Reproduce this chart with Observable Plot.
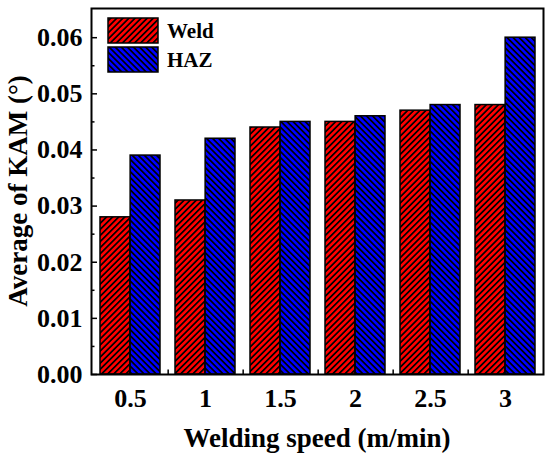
<!DOCTYPE html>
<html>
<head>
<meta charset="utf-8">
<script src="https://cdn.jsdelivr.net/npm/d3@7"></script>
<script src="https://cdn.jsdelivr.net/npm/@observablehq/plot@0.6"></script>
<style>
  html, body { margin: 0; padding: 0; background: #fff; }
  #chart svg { display: block; }
  #chart svg text { font-family: 'Liberation Serif', 'Times New Roman', serif; font-weight: bold; }
</style>
</head>
<body>
<div id="chart"></div>
<script>
const speeds = ["0.5", "1", "1.5", "2", "2.5", "3"];
const weld = [0.028, 0.031, 0.044, 0.045, 0.047, 0.048];
const haz = [0.039, 0.042, 0.045, 0.046, 0.048, 0.060];
const yTicks = [0, 0.01, 0.02, 0.03, 0.04, 0.05, 0.06];
const yMinor = [0.005, 0.015, 0.025, 0.035, 0.045, 0.055];
const seriesNames = ["Weld", "HAZ"];

const W = 550, H = 458;
const mL = 91, mR = 7, mT = 8, mB = 84;
const plotW = W - mL - mR;
const padIn = 0.2, padOut = 0.1;
const step = plotW / (speeds.length - padIn + 2 * padOut);
const bw = step * (1 - padIn);
const font = "'Liberation Serif', 'Times New Roman', serif";

const weldData = speeds.map((s, i) => ({speed: s, value: weld[i]}));
const hazData = speeds.map((s, i) => ({speed: s, value: haz[i]}));

const chart = Plot.plot({
  width: W, height: H,
  marginLeft: mL, marginRight: mR, marginTop: mT, marginBottom: mB,
  style: {fontFamily: font, fontWeight: "bold", fontSize: "26px", color: "#000", background: "#fff"},
  x: {domain: speeds, paddingInner: padIn, paddingOuter: padOut, label: null},
  y: {domain: [0, 0.0652], label: null},
  marks: [
    Plot.barY(weldData, {x: "speed", y: "value", fill: "url(#hatchWeld)", stroke: "#000", strokeWidth: 1.5, insetRight: bw / 2, insetLeft: 0}),
    Plot.barY(hazData, {x: "speed", y: "value", fill: "url(#hatchHaz)", stroke: "#000", strokeWidth: 1.5, insetLeft: bw / 2, insetRight: 0}),
    Plot.ruleY(yTicks, {y: d => d, insetRight: plotW - 6, stroke: "#000", strokeWidth: 1.5}),
    Plot.ruleY(yMinor, {y: d => d, insetRight: plotW - 3.5, stroke: "#000", strokeWidth: 1.5}),
    Plot.ruleX(speeds.slice(0, -1), {x: d => d, dx: step / 2, y1: 0, y2: 0.0008, stroke: "#000", strokeWidth: 1.5}),
    Plot.axisY({ticks: yTicks, tickSize: 0, tickPadding: 9, tickFormat: d3.format(".2f"), label: null,
      fontFamily: font, fontWeight: "bold", fontSize: 26, fill: "#000"}),
    Plot.axisX({tickSize: 0, tickPadding: 14, label: null,
      fontFamily: font, fontWeight: "bold", fontSize: 26, fill: "#000"}),
    Plot.frame({stroke: "#000", strokeWidth: 2})
  ]
});

const svg = d3.select(chart);
const defs = svg.insert("defs", ":first-child");
function hatch(id, color, angle) {
  const p = defs.append("pattern")
    .attr("id", id).attr("patternUnits", "userSpaceOnUse")
    .attr("width", 4.3).attr("height", 4.3)
    .attr("patternTransform", `rotate(${angle})`);
  p.append("rect").attr("width", 4.3).attr("height", 4.3).attr("fill", color);
  p.append("rect").attr("x", 0).attr("y", 0).attr("width", 1.7).attr("height", 4.3).attr("fill", "#000");
}
hatch("hatchWeld", "#ff0000", 45);
hatch("hatchHaz", "#0000ff", -45);

// Legend
const colors = ["url(#hatchWeld)", "url(#hatchHaz)"];
const lg = svg.append("g").attr("font-size", 21).attr("text-anchor", "start");
seriesNames.forEach((name, i) => {
  const y0 = 18 + i * 29;
  lg.append("rect").attr("x", 108).attr("y", y0).attr("width", 50).attr("height", 25)
    .attr("fill", colors[i]).attr("stroke", "#000").attr("stroke-width", 1.5);
  lg.append("text").attr("x", 167).attr("y", y0 + 20).text(name);
});

// Axis titles
svg.append("text")
  .attr("x", mL + plotW / 2).attr("y", 447)
  .attr("text-anchor", "middle").attr("font-size", 27)
  .text("Welding speed (m/min)");
svg.append("text")
  .attr("transform", `translate(27, ${(mT + H - mB) / 2}) rotate(-90)`)
  .attr("text-anchor", "middle").attr("font-size", 27)
  .text("Average of KAM (°)");

document.getElementById("chart").appendChild(chart);
</script>
</body>
</html>
